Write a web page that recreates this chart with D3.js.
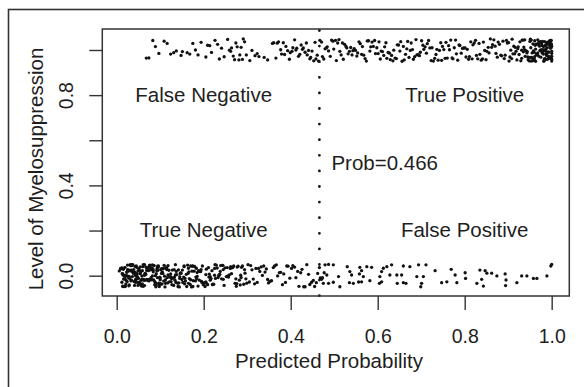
<!DOCTYPE html>
<html>
<head>
<meta charset="utf-8">
<script src="https://cdn.jsdelivr.net/npm/d3@7"></script>
<style>
  body { margin: 0; background: #fff; }
  svg { display: block; font-family: "Liberation Sans", Arial, sans-serif; }
</style>
</head>
<body>
<div id="chart"></div>
<script>
// jittered predicted probability vs observed myelosuppression (1 = yes, 0 = no)
// each pair: [predicted probability, level + jitter], estimated from the picture

const positivePoints = [
  [.068,.964],[.074,.965],[.083,1.042],[.089,1.015],[.097,.985],[.109,1.039],[.116,1.029],[.124,.982],[.131,.988],[.137,.996],[.148,.976],[.151,.993],[.162,.988],[.168,.982],[.175,1.029],[.181,1.0],[.187,.978],[.194,1.034],
  [.205,.969],[.209,1.021],[.214,1.019],[.218,.989],[.226,1.043],[.232,1.025],[.236,.96],[.241,1.008],[.247,.97],[.255,1.047],[.259,.999],[.262,.994],[.264,1.009],[.268,.973],[.271,.957],[.274,1.031],[.277,1.014],[.281,.956],[.283,.978],[.286,1.012],[.289,.958],[.291,1.049],[.294,1.036],[.298,.978],
  [.306,.953],[.311,.998],[.318,.975],[.323,.984],[.327,.971],[.339,.967],[.347,.956],[.358,1.029],[.361,1.032],[.366,.964],[.369,1.03],[.372,1.036],[.377,1.001],[.379,.982],[.383,1.032],[.386,.98],[.389,1.016],[.393,.997],[.397,.959],[.399,.988],
  [.403,.994],[.405,1.01],[.409,1.045],[.412,1.0],[.414,1.008],[.418,.972],[.421,.981],[.424,1.022],[.427,1.003],[.429,1.009],[.433,.99],[.436,1.031],[.438,.978],[.441,.998],[.444,.961],[.446,.967],[.449,.995],[.453,.952],[.456,1.034],[.458,.96],[.461,.977],[.464,.951],[.467,1.043],[.471,1.035],[.473,.971],[.476,.96],[.479,1.005],[.482,1.009],[.484,1.014],[.487,.996],[.491,.972],[.494,1.044],[.497,1.039],[.499,1.004],
  [.503,1.043],[.505,.953],[.508,1.031],[.511,1.046],[.513,.994],[.516,.978],[.519,1.031],[.521,.959],[.524,1.025],[.527,1.016],[.529,1.009],[.532,.983],[.535,.994],[.538,1.011],[.541,.978],[.543,.997],[.546,1.006],[.549,.998],
  [.552,.973],[.554,.987],[.557,1.036],[.56,1.028],[.563,.981],[.565,1.015],[.568,.977],[.571,.962],[.574,.951],[.576,1.04],[.579,1.041],[.582,.995],[.584,1.014],[.587,1.035],[.59,1.016],[.593,1.042],[.595,.984],[.598,1.01],
  [.601,.984],[.603,1.036],[.606,.96],[.608,.995],[.611,.993],[.614,.976],[.616,1.014],[.619,1.032],[.621,.963],[.624,.989],[.627,.986],[.629,.957],[.632,.976],[.635,.952],[.637,.999],[.64,.964],[.643,.962],[.645,1.023],[.648,1.022],
  [.651,.995],[.653,1.037],[.656,.95],[.659,1.016],[.661,.956],[.664,.981],[.667,1.005],[.669,1.038],[.672,.967],[.675,.998],[.677,1.031],[.68,1.002],[.682,.959],[.685,.97],[.688,1.046],[.69,.978],[.693,.979],[.696,.975],[.698,.99],
  [.701,1.041],[.704,1.021],[.706,1.003],[.709,1.014],[.712,.986],[.714,1.028],[.717,1.042],[.72,1.009],[.723,.953],[.725,1.01],[.728,.951],[.731,.963],[.734,.98],[.736,1.003],[.739,.955],[.742,.998],[.745,1.032],[.747,.954],[.749,1.016],
  [.752,1.002],[.755,.963],[.757,1.034],[.76,.964],[.763,1.019],[.765,1.001],[.768,1.044],[.771,.965],[.773,.961],[.776,1.01],[.779,1.044],[.781,.983],[.784,.955],[.787,1.022],[.789,1.02],[.792,.986],[.795,1.007],[.798,1.009],
  [.801,1.009],[.803,.969],[.806,1.003],[.809,.959],[.811,.971],[.814,1.036],[.817,.961],[.819,1.023],[.822,1.031],[.825,1.043],[.827,.976],[.83,.961],[.833,1.029],[.835,.981],[.838,.955],[.841,.961],[.843,1.035],[.846,.998],[.849,.957],
  [.851,.994],[.854,1.012],[.856,.987],[.859,1.049],[.862,1.012],[.864,1.024],[.867,1.045],[.87,1.017],[.872,.985],[.875,.968],[.877,1.035],[.88,1.025],[.883,.977],[.885,.974],[.888,1.039],[.891,.962],[.893,.977],[.896,1.043],[.898,1.031],
  [.901,1.033],[.902,.951],[.904,.969],[.906,.999],[.908,.962],[.909,1.048],[.911,.983],[.913,1.017],[.915,.983],[.916,1.012],[.918,.994],[.92,.956],[.922,1.006],[.923,1.014],[.925,.98],[.927,1.036],[.929,.952],[.931,.963],[.932,1.044],[.934,1.044],[.936,1.013],[.938,1.045],[.939,.972],[.941,.997],[.943,.987],[.945,.969],[.946,.957],[.948,.952],[.95,.967],
  [.951,1.048],[.952,1.01],[.953,1.044],[.955,.987],[.956,.952],[.957,1.027],[.959,.955],[.96,.989],[.961,.971],[.962,1.021],[.964,1.026],[.965,.979],[.966,.981],[.967,1.026],[.969,1.025],[.97,.973],[.971,1.034],[.972,1.017],[.973,.998],[.975,.968],
  [.976,.996],[.977,1.026],[.978,1.019],[.979,.99],[.98,1.001],[.981,.982],[.982,.95],[.983,.955],[.984,1.018],[.985,.962],[.986,1.021],[.987,.995],[.988,.976],[.988,.985],[.989,1.01],[.99,1.032],[.991,1.027],[.991,1.035],[.992,1.027],[.993,.963],
  [.993,.992],[.994,1.025],[.995,1.027],[.995,1.039],[.996,1.01],[.996,1.041],[.997,1.023],[.997,1.013],[.998,1.021],[.998,1.028],[.999,1.022],[.999,.964],[.999,1.018],[1.0,.994],[1.0,.959],[1.0,.951],[1.0,.972],
  [.931,.999],[.937,1.003],[.944,.993],[.952,.951],[.958,.996],[.963,1.004],[.968,1.045],[.974,1.035],[.978,.987],[.983,.96],[.986,1.0],[.989,1.029],[.992,.972],[.994,1.029],[.996,1.018],[.997,1.042],[.998,1.008],[.999,1.042],[1.0,.985],[.935,.992],
  [.95,1.038],[.954,.967],[.957,.96],[.96,.96],[.963,.95],[.966,.981],[.968,.987],[.971,1.033],[.974,1.037],[.976,1.002],
  [.979,1.038],[.981,1.015],[.984,1.037],[.986,1.003],[.988,.982],[.99,.958],[.992,.988],[.994,.964],[.995,.97],[.997,1.011],
  [.998,1.021],[.999,1.027],[1.0,1.016],[.961,1.041],[.982,.997]
]

const negativePoints = [
  [.006,.021],[.009,.032],[.01,.031],[.011,.032],[.012,.034],[.013,.009],[.014,-.046],[.015,.002],[.016,-.015],[.017,-.014],
  [.018,-.048],[.019,.037],[.02,-.003],[.021,-.037],[.022,.002],[.023,.016],[.024,-.026],[.025,.047],[.026,.025],[.027,.022],
  [.028,-.003],[.029,-.041],[.03,-.014],[.031,.049],[.032,.045],[.033,.045],[.034,.024],[.035,.046],[.036,.019],[.037,.017],
  [.038,.012],[.039,.027],[.04,-.026],[.041,-.043],[.042,.016],[.043,-.02],[.044,-.015],[.045,-.015],[.046,-.003],[.047,.009],
  [.048,-.005],[.049,.021],[.05,-.012],[.012,-.029],[.015,.028],[.018,.002],[.021,.001],[.024,.016],[.027,-.008],[.03,.024],
  [.033,-.023],[.036,-.004],[.039,.013],[.042,.041],[.045,.043],[.048,-.03],[.02,-.047],[.028,-.045],[.035,.049],[.043,-.029],
  [.051,.031],[.052,.024],[.053,-.037],[.054,.009],[.055,.016],[.056,-.021],[.057,-.046],[.058,-.015],[.059,.022],[.06,.04],
  [.061,-.047],[.062,-.016],[.063,-.021],[.064,.002],[.065,.01],[.066,.009],[.067,.006],[.068,-.02],[.069,.023],[.07,.031],
  [.071,-.018],[.072,-.018],[.073,.036],[.074,-.023],[.075,.044],[.076,-.016],[.077,.04],[.078,.026],[.079,-.018],[.08,-.017],
  [.081,.032],[.082,.048],[.083,.03],[.084,.025],[.085,-.019],[.086,.045],[.087,-.025],[.088,-.04],[.089,-.031],[.09,-.049],
  [.091,-.035],[.092,.023],[.093,.033],[.094,-.009],[.095,.037],[.096,.043],[.097,-.043],[.098,-.048],[.099,-.035],[.1,-.01],
  [.054,.039],[.059,-.036],[.064,.049],[.069,-.016],[.074,.038],[.079,-.009],[.084,.017],[.089,0],[.094,.042],[.099,-.006],
  [.01,.031],[.013,.009],[.016,.031],[.019,-.014],[.022,-.021],[.025,.027],[.028,-.003],[.031,.021],[.034,-.02],[.037,.049],
  [.04,.01],[.043,.001],[.046,.037],[.049,-.043],[.052,-.029],[.055,-.037],[.058,-.001],[.061,.049],[.064,-.044],[.067,.038],
  [.07,.033],[.073,.022],[.076,.047],[.079,.03],[.082,-.001],[.085,.045],[.088,-.04],[.091,.009],[.094,.023],[.097,-.033],
  [.1,-.018],[.103,.031],[.106,.01],[.109,.046],[.112,-.019],[.115,.035],[.118,.045],[.014,-.048],[.029,-.006],[.044,.009],
  [.101,.026],[.102,-.036],[.103,.01],[.105,.016],[.106,.03],[.107,.032],[.108,-.024],[.11,-.002],[.111,-.05],[.112,-.034],
  [.113,.034],[.115,.027],[.116,-.009],[.117,-.032],[.118,.003],[.12,.024],[.121,-.027],[.122,-.005],[.123,-.006],[.125,-.026],
  [.126,-.013],[.127,-.04],[.128,.025],[.13,-.011],[.131,-.043],[.132,.027],[.133,-.006],[.135,.049],[.136,-.03],[.137,.019],
  [.138,.005],[.14,-.033],[.141,-.048],[.142,.026],[.143,-.032],[.145,-.012],[.146,.01],[.147,.012],[.148,.011],[.15,-.017],
  [.104,-.037],[.114,.034],[.124,.008],[.134,-.02],[.144,-.05],
  [.151,.025],[.152,-.03],[.154,-.006],[.155,.043],[.157,-.012],[.158,-.024],[.16,.006],[.161,-.048],[.163,.047],[.164,.01],
  [.166,.017],[.167,-.013],[.169,-.039],[.17,-.018],[.172,-.05],[.173,.02],[.175,.043],[.176,-.022],[.178,.02],[.179,.041],
  [.181,-.023],[.182,-.006],[.184,-.013],[.185,-.003],[.187,-.046],[.188,.022],[.19,-.02],[.191,.019],[.193,.019],[.194,.027],
  [.196,-.03],[.197,.043],[.199,-.04],[.156,-.036],[.165,-.034],[.174,.042],[.183,.033],[.192,.018],
  [.201,-.031],[.203,-.048],[.205,.005],[.207,-.035],[.209,-.04],[.211,.036],[.213,.007],[.215,-.004],[.217,-.013],[.219,.022],
  [.221,-.039],[.223,-.038],[.225,.002],[.227,-.012],[.229,.047],[.231,.034],[.233,-.008],[.235,0],[.237,.006],[.239,.045],
  [.241,-.014],[.243,.046],[.245,.027],[.247,-.043],[.249,.035],[.212,-.006],[.226,.049],[.238,.019],[.244,.046],[.206,.029],
  [.125,-.005],[.135,.003],[.145,-.004],[.155,.04],[.165,.033],[.175,-.048],[.185,.014],[.195,-.025],[.205,-.028],[.215,-.02],
  [.225,.032],[.235,.003],[.245,-.016],[.255,-.004],[.265,.035],[.275,-.047],[.285,.002],[.295,.011],[.17,.043],[.22,-.039],
  [.252,-.004],[.254,.036],[.257,-.006],[.259,.004],[.262,.04],[.264,.009],[.267,.037],[.269,.043],[.272,-.034],[.274,-.014],
  [.277,.038],[.279,.042],[.282,-.02],[.284,-.041],[.287,.037],[.289,.043],[.292,-.038],[.294,.027],[.297,-.014],[.299,-.033],
  [.261,.032],[.276,-.035],[.286,-.008],[.256,-.001],
  [.302,.049],[.305,-.028],[.308,.045],[.311,.026],[.314,-.015],[.317,-.036],[.32,.032],[.323,-.03],[.326,.032],[.329,.019],
  [.332,.039],[.335,.001],[.338,.043],[.341,.016],[.344,.03],[.347,-.017],[.349,-.032],
  [.353,-.025],[.356,-.022],[.36,.036],[.363,.043],[.367,.048],[.37,-.001],[.374,.014],[.377,.015],[.381,-.04],[.384,.008],
  [.388,-.03],[.391,.043],[.394,.042],[.398,-.011],
  [.402,.032],[.405,.044],[.409,.038],[.412,-.009],[.416,.019],[.419,-.047],[.423,.013],[.426,.028],[.43,-.049],[.433,-.049],
  [.437,.049],[.441,.006],[.444,-.039],[.448,-.029],[.452,-.021],[.455,-.048],[.459,-.031],[.462,.01],[.466,.036],[.468,-.01],
  [.471,-.016],[.473,-.009],
  [.479,.048],[.487,.05],[.498,.048],[.477,.013],[.483,.003],[.475,-.034],[.487,-.034],[.498,-.029],[.51,-.004],[.513,-.049],
  [.53,.04],[.536,.018],[.54,.003],[.535,-.031],[.544,-.034],[.559,.037],[.563,.022],[.575,.04],[.586,.037],[.558,.008],
  [.567,-.004],[.556,-.028],[.563,-.027],[.582,-.022],
  [.609,.018],[.613,.033],[.621,.04],[.632,.048],[.605,-.004],[.604,-.034],[.609,-.027],[.628,.003],[.644,.003],[.655,.003],
  [.659,.043],[.674,.04],[.694,.048],[.711,.048],[.659,-.031],[.645,-.034],[.665,-.034],[.69,-.004],[.705,-.004],[.701,-.034],
  [.699,-.049],[.732,.022],[.747,-.031],[.759,-.027],[.769,.028],[.778,.003],[.782,-.031],
  [.801,.013],[.802,-.012],[.828,-.034],[.835,.025],[.847,.022],[.839,-.016],[.843,-.046],[.851,.011],[.862,.011],[.874,-.001],
  [.893,.008],[.895,-.019],[.894,-.044],[.92,-.031],[.931,-.001],[.943,-.001],[.958,-.012],[.966,-.012],[.989,-.001],[.998,.043],
  [1.0,.05]
]

const xTicks = [0, 0.2, 0.4, 0.6, 0.8, 1.0]
const yTicks = [0, 0.2, 0.4, 0.6, 0.8, 1.0]
const yTickLabels = [0, 0.4, 0.8]  // R drops the labels that would overlap

const cutoff = 0.466
const cutoffLabel = "Prob=0.466"

const regionLabels = ["False Negative", "True Positive", "True Negative", "False Positive"]
const regionX = [0.2, 0.8, 0.2, 0.8]
const regionY = [0.8, 0.8, 0.2, 0.2]

const xTitle = "Predicted Probability"
const yTitle = "Level of Myelosuppression"

// layout
const W = 584, H = 387
const box = { left: 102.3, right: 569.3, top: 29, bottom: 296 }
const ink = "#1e1e1e"

const svg = d3.select("#chart").append("svg")
  .attr("width", W).attr("height", H)

svg.append("rect").attr("width", W).attr("height", H).attr("fill", "#fff")

// outer frame of the figure (only its left and top edges fall inside the picture)
svg.append("rect")
  .attr("x", 8.5).attr("y", 9.5)
  .attr("width", 700).attr("height", 500)
  .attr("fill", "none").attr("stroke", "#333").attr("stroke-width", 1.6)

// scales - domains padded the way R pads its plot region
const x = d3.scaleLinear().domain([-0.0331, 1.0405]).range([box.left, box.right])
const y = d3.scaleLinear().domain([-0.09, 1.093]).range([box.bottom, box.top])

// x axis
const xAxis = svg.append("g")
  .attr("transform", `translate(0,${box.bottom})`)
  .call(d3.axisBottom(x).tickValues(xTicks).tickSize(14).tickSizeOuter(0).tickFormat(d3.format(".1f")))
xAxis.select(".domain").remove()
xAxis.selectAll("line").attr("stroke", "#333").attr("stroke-width", 1.4)
xAxis.selectAll("text")
  .attr("y", 47).attr("dy", null)
  .style("font-size", "19.5px").style("fill", ink)
  .style("font-family", "Liberation Sans, Arial, sans-serif")

// y axis, labels rotated like R's default
const yAxis = svg.append("g")
  .attr("transform", `translate(${box.left},0)`)
  .call(d3.axisLeft(y).tickValues(yTicks).tickSize(13).tickSizeOuter(0)
    .tickFormat(d => yTickLabels.some(v => Math.abs(v - d) < 1e-9) ? d3.format(".1f")(d) : ""))
yAxis.select(".domain").remove()
yAxis.selectAll("line").attr("stroke", "#333").attr("stroke-width", 1.4)
yAxis.selectAll("text")
  .attr("x", null).attr("dy", null)
  .attr("transform", "translate(-29.7,0) rotate(-90)")
  .attr("text-anchor", "middle")
  .style("font-size", "19.5px").style("fill", ink)
  .style("font-family", "Liberation Sans, Arial, sans-serif")

// axis titles
svg.append("text")
  .attr("x", 329).attr("y", 368)
  .attr("text-anchor", "middle")
  .style("font-size", "20.5px").style("fill", ink)
  .text(xTitle)

svg.append("text")
  .attr("transform", "translate(43,169) rotate(-90)")
  .attr("text-anchor", "middle")
  .style("font-size", "20.5px").style("fill", ink)
  .text(yTitle)

// dotted cut-off line
svg.append("line")
  .attr("x1", x(cutoff)).attr("x2", x(cutoff))
  .attr("y1", box.top + 1.5).attr("y2", box.bottom)
  .attr("stroke", "#111").attr("stroke-width", 2.8)
  .attr("stroke-linecap", "round")
  .attr("stroke-dasharray", "0 15.6")

svg.append("text")
  .attr("x", x(cutoff) + 12).attr("y", y(0.5) + 7)
  .style("font-size", "20.5px").style("fill", ink)
  .text(cutoffLabel)

// quadrant labels
svg.selectAll(".region")
  .data(regionLabels).join("text")
  .attr("class", "region")
  .attr("x", (d, i) => x(regionX[i]))
  .attr("y", (d, i) => y(regionY[i]) + 6.8)
  .attr("text-anchor", "middle")
  .style("font-size", "20.5px").style("fill", ink)
  .text(d => d)

// jittered points
const pts = svg.append("g").attr("fill", "#111")
pts.selectAll(".pos")
  .data(positivePoints).join("circle")
  .attr("class", "pos")
  .attr("cx", d => x(d[0])).attr("cy", d => y(d[1])).attr("r", 1.65)
pts.selectAll(".neg")
  .data(negativePoints).join("circle")
  .attr("class", "neg")
  .attr("cx", d => x(d[0])).attr("cy", d => y(d[1])).attr("r", 1.65)

// plot box on top
svg.append("rect")
  .attr("x", box.left).attr("y", box.top)
  .attr("width", box.right - box.left).attr("height", box.bottom - box.top)
  .attr("fill", "none").attr("stroke", "#333").attr("stroke-width", 1.5)
</script>
</body>
</html>
